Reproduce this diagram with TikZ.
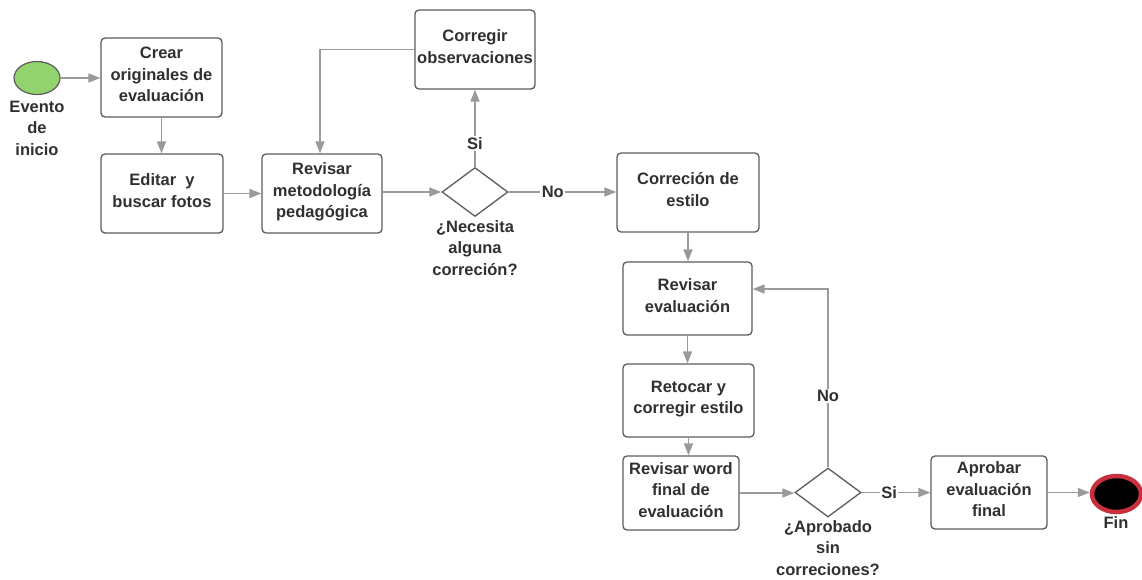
\documentclass[tikz,border=0pt]{standalone}
\usepackage{fontspec}
\setmainfont{Liberation Sans}
\usetikzlibrary{arrows.meta,shapes.geometric}
\definecolor{txt}{HTML}{303030}
\definecolor{edge}{HTML}{5C5C5C}
\definecolor{conn}{HTML}{9A9A9A}
\definecolor{startg}{HTML}{93D36E}
\definecolor{endred}{HTML}{C9303E}
\begin{document}
\begin{tikzpicture}[x=1pt,y=-1pt,
  every node/.style={font=\bfseries\fontsize{16.5}{21.5}\selectfont, text=txt, align=center},
  task/.style={draw=edge, line width=1.3pt, rounded corners=4pt, fill=white, inner sep=0pt,
               execute at end node={\rule[-6pt]{0pt}{6pt}}},
  gate/.style={diamond, draw=edge, line width=1.3pt, fill=white, inner sep=0pt,
               minimum width=66pt, minimum height=49pt},
  flow/.style={draw=conn, line width=1.5pt, -{Triangle[length=12pt,width=9pt]}},
  tag/.style={fill=white, inner sep=1.5pt}]
\useasboundingbox (0,0) rectangle (1142,579);

% events
\node[ellipse, draw=edge, line width=1.2pt, fill=startg, minimum width=46pt,
      minimum height=33pt, inner sep=0pt] (start) at (37,78) {};
\node (startlbl) at (37,128) {Evento\\de\\inicio};
\node[ellipse, draw=endred, line width=4.5pt, fill=black, minimum width=49pt,
      minimum height=36pt, inner sep=0pt] (fin) at (1116.5,494) {};
\node (finlbl) at (1116,523) {Fin};

% tasks
\node[task, minimum width=121pt, minimum height=79pt] (crear) at (161.5,77.5) {Crear\\originales de\\evaluación};
\node[task, minimum width=122pt, minimum height=79pt] (editar) at (162,193.5) {Editar\ \ y\\buscar fotos};
\node[task, minimum width=120pt, minimum height=79pt] (revisar) at (322,193.5) {Revisar\\metodología\\pedagógica};
\node[task, minimum width=120pt, minimum height=79pt] (corregir) at (475,49.5) {Corregir\\observaciones};
\node[task, minimum width=142pt, minimum height=79pt] (estilo) at (688,192.5) {Correción de\\estilo};
\node[task, minimum width=129pt, minimum height=73pt] (reveval) at (687.5,298.5) {Revisar\\evaluación};
\node[task, minimum width=131pt, minimum height=73pt] (retocar) at (688.5,400.5) {Retocar y\\corregir estilo};
\node[task, minimum width=116pt, minimum height=74pt] (word) at (681,493) {Revisar word\\final de\\evaluación};
\node[task, minimum width=116pt, minimum height=73pt] (aprobar) at (989,492.5) {Aprobar\\evaluación\\final};

% gateways
\node[gate] (d1) at (475,192) {};
\node (d1lbl) at (475,248) {¿Necesita\\alguna\\correción?};
\node[gate] (d2) at (828,492.5) {};
\node (d2lbl) at (828,548) {¿Aprobado\\sin\\correciones?};

% sequence flows
\draw[flow] (start.east) -- (crear.west |- start.east);
\draw[flow] (crear.south) -- (editar.north -| crear.south);
\draw[flow] (editar.east) -- (revisar.west |- editar.east);
\draw[flow] (revisar.east |- d1.west) -- (d1.west);
\draw[flow] (d1.north) -- node[tag, pos=0.3] (si1) {Si} (corregir.south);
\draw[flow] (corregir.west) -| ([xshift=-2pt]revisar.north);
\draw[flow] (d1.east) -- node[tag, pos=0.41] (no1) {No} (estilo.west |- d1.east);
\draw[flow] (estilo.south) -- (reveval.north -| estilo.south);
\draw[flow] (reveval.south) -- (retocar.north -| reveval.south);
\draw[flow] (retocar.south) -- (word.north -| retocar.south);
\draw[flow] (word.east) -- (d2.west |- word.east);
\draw[flow] (d2.north) |- node[tag, pos=0.2] (no2) {No} ([yshift=9.5pt]reveval.east);
\draw[flow] (d2.east) -- node[tag, pos=0.4] (si2) {Si} (aprobar.west |- d2.east);
\draw[flow] (aprobar.east) -- (fin.west |- aprobar.east);
\end{tikzpicture}
\end{document}
